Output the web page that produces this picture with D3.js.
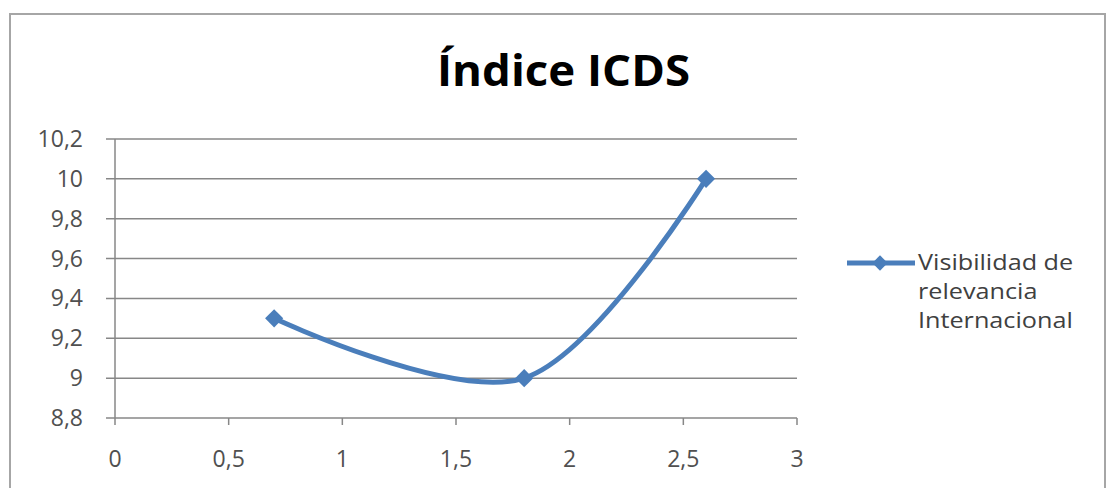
<!DOCTYPE html>
<html>
<head>
<meta charset="utf-8">
<script src="https://cdn.jsdelivr.net/npm/d3@7"></script>
<style>
  body { margin: 0; background: #fff; }
  svg { display: block; }
</style>
</head>
<body>
<script>
// data
var seriesName = 'Visibilidad de relevancia Internacional';
var legendLines = ['Visibilidad de', 'relevancia', 'Internacional'];
var xValues = [0.7, 1.8, 2.6];
var yValues = [9.3, 9.0, 10.0];
var xTicks = [0, 0.5, 1, 1.5, 2, 2.5, 3];
var yTicks = [8.8, 9, 9.2, 9.4, 9.6, 9.8, 10, 10.2];

var w = 1113, h = 488;
var COLOR = '#4a7ebb';
var GRID = '#878787';
var FONT = 'Open Sans, Lato, sans-serif';

var locale = d3.formatLocale({ decimal: ',', thousands: '.', grouping: [3], currency: ['', ''] });
var fmt = locale.format('.1~f');

var svg = d3.select('body').append('svg')
  .attr('width', w)
  .attr('height', h);

// chart frame
svg.append('rect')
  .attr('x', 10).attr('y', 14)
  .attr('width', 1095).attr('height', 490)
  .attr('fill', '#fff')
  .attr('stroke', '#a6a6a6')
  .attr('stroke-width', 2);

var x = d3.scaleLinear().domain([0, 3]).range([115, 797]);
var y = d3.scaleLinear().domain([8.8, 10.2]).range([418, 139]);

// horizontal gridlines with left tick stubs
svg.append('g').selectAll('line')
    .data(yTicks)
  .enter().append('line')
    .attr('x1', x(0) - 9)
    .attr('x2', x(3))
    .attr('y1', function(d) { return y(d); })
    .attr('y2', function(d) { return y(d); })
    .attr('stroke', GRID)
    .attr('stroke-width', 1.5);

// y axis line
svg.append('line')
  .attr('x1', x(0)).attr('x2', x(0))
  .attr('y1', y(10.2)).attr('y2', y(8.8))
  .attr('stroke', GRID).attr('stroke-width', 1.5);

// x ticks
svg.append('g').selectAll('line')
    .data(xTicks)
  .enter().append('line')
    .attr('x1', function(d) { return x(d); })
    .attr('x2', function(d) { return x(d); })
    .attr('y1', y(8.8))
    .attr('y2', y(8.8) + 7)
    .attr('stroke', GRID)
    .attr('stroke-width', 1.5);

// y labels
svg.append('g').selectAll('text')
    .data(yTicks)
  .enter().append('text')
    .attr('x', 83)
    .attr('y', function(d) { return y(d); })
    .attr('dy', '0.35em')
    .attr('text-anchor', 'end')
    .style('font-family', FONT)
    .style('font-size', '23px')
    .style('fill', '#505050')
    .text(fmt);

// x labels
svg.append('g').selectAll('text')
    .data(xTicks)
  .enter().append('text')
    .attr('x', function(d) { return x(d); })
    .attr('y', 459)
    .attr('dy', '0.35em')
    .attr('text-anchor', 'middle')
    .style('font-family', FONT)
    .style('font-size', '23px')
    .style('fill', '#505050')
    .text(fmt);

// smoothed series line
var pts = xValues.map(function(v, i) { return [v, yValues[i]]; });
var line = d3.line()
  .x(function(d) { return x(d[0]); })
  .y(function(d) { return y(d[1]); })
  .curve(d3.curveCardinal.tension(0));

svg.append('path')
  .datum(pts)
  .attr('d', line)
  .attr('fill', 'none')
  .attr('stroke', COLOR)
  .attr('stroke-width', 5)
  .attr('stroke-linecap', 'round');

var diamond = d3.symbol().type(d3.symbolDiamond2).size(210);

svg.append('g').selectAll('path')
    .data(pts)
  .enter().append('path')
    .attr('d', diamond)
    .attr('transform', function(d) { return 'translate(' + x(d[0]) + ',' + y(d[1]) + ')'; })
    .attr('fill', COLOR);

// title
svg.append('text')
  .attr('x', 437)
  .attr('y', 86)
  .attr('textLength', 253)
  .attr('lengthAdjust', 'spacingAndGlyphs')
  .style('font-family', FONT)
  .style('font-weight', 'bold')
  .style('font-size', '43px')
  .style('fill', '#000')
  .text('Índice ICDS');

// legend
var lg = svg.append('g').attr('transform', 'translate(847,263)');
lg.append('line')
  .attr('x1', 0).attr('x2', 68)
  .attr('y1', 0).attr('y2', 0)
  .attr('stroke', COLOR)
  .attr('stroke-width', 5);
lg.append('path')
  .attr('d', d3.symbol().type(d3.symbolDiamond2).size(150))
  .attr('transform', 'translate(33,0)')
  .attr('fill', COLOR);
lg.append('g')
    .attr('transform', 'translate(71,0) scale(1.2,1)')
  .selectAll('text')
    .data(legendLines)
  .enter().append('text')
    .attr('x', 0)
    .attr('y', function(d, i) { return i * 29; })
    .attr('dy', '0.35em')
    .style('font-family', FONT)
    .style('font-size', '21px')
    .style('fill', '#404040')
    .text(function(d) { return d; });
</script>
</body>
</html>
